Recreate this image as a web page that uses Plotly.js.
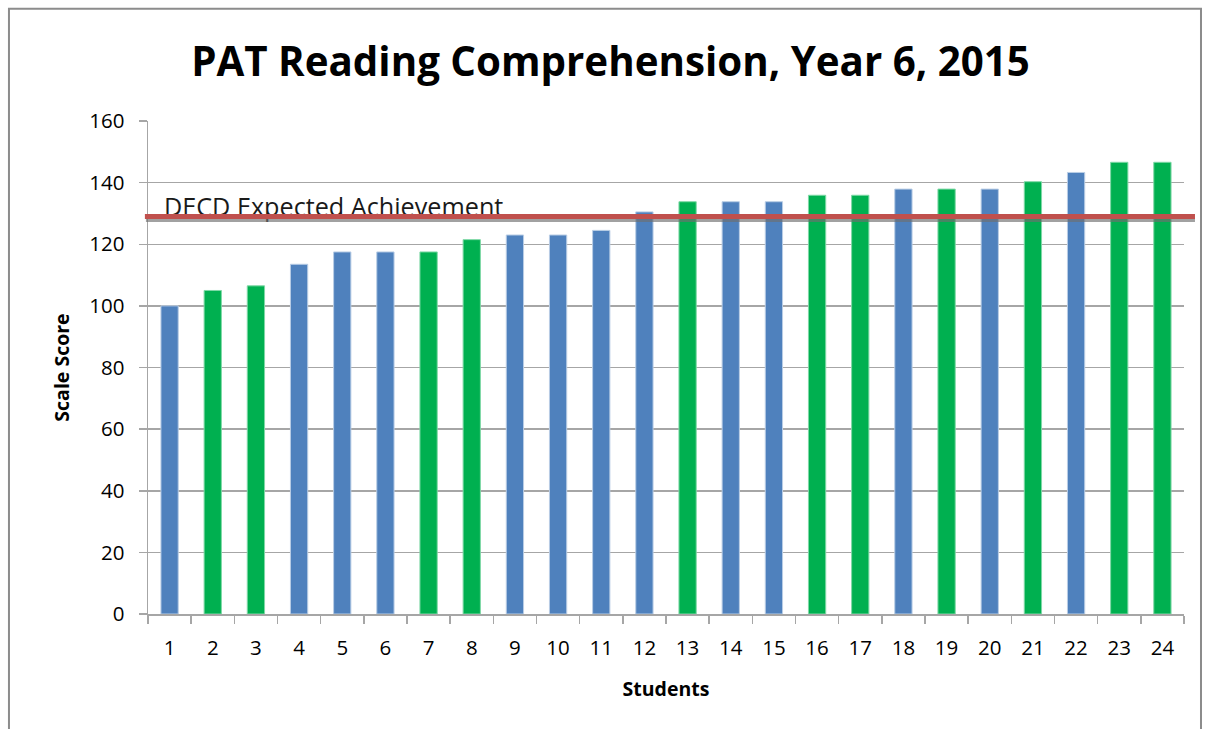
<!DOCTYPE html>
<html>
<head>
<meta charset="utf-8">
<script src="https://cdn.plot.ly/plotly-3.0.1.min.js"></script>
<style>html,body{margin:0;padding:0;background:#fff;}#chart{width:1209px;height:729px;}</style>
</head>
<body>
<div id="chart"></div>
<script>
const students = [1,2,3,4,5,6,7,8,9,10,11,12,13,14,15,16,17,18,19,20,21,22,23,24];
const scores = [100,105,106.5,113.5,117.5,117.5,117.5,121.5,123,123,124.5,130.5,133.8,133.8,133.8,135.9,135.9,137.9,137.9,137.9,140.3,143.3,146.6,146.6];
const groups = ['A','B','B','A','A','A','B','B','A','A','A','A','B','A','A','B','B','A','B','A','B','A','B','B'];
const expected = 129;
const expectedLabel = 'DECD Expected Achievement';
const yTicks = [0,20,40,60,80,100,120,140,160];

const groupColor = {A:'#4F81BD', B:'#00B050'};
const groupLine = {A:'#B9CDE5', B:'#7FD8A6'};
const FONT = 'Open Sans, Liberation Sans, sans-serif';

const data = [
  {
    type:'bar', x: students, y: scores, width: 0.4,
    marker:{color: groups.map(g=>groupColor[g]), line:{color: groups.map(g=>groupLine[g]), width:1}},
    hoverinfo:'x+y', showlegend:false
  },
  {
    type:'scatter', mode:'text', x:[0.87], y:[expected - 1.8], text:[expectedLabel],
    textposition:'top right', textfont:{family:FONT, size:25.2, color:'#1a1a1a'},
    hoverinfo:'skip', showlegend:false
  }
];

const layout = {
  width:1209, height:729,
  margin:{l:148, r:25, t:121, b:115},
  paper_bgcolor:'#fff', plot_bgcolor:'#fff',
  title:{text:'PAT Reading Comprehension, Year 6, 2015', x:0.505, xanchor:'center', y:0.915, yanchor:'middle',
         font:{family:FONT, size:40.3, color:'#000', weight:700}},
  xaxis:{
    range:[0.5,24.5], tickvals: students, ticktext: students.map(String),
    ticks:'', showgrid:false, zeroline:false, ticklabelstandoff:14,
    showline:true, linecolor:'#A6A6A6', linewidth:2,
    tickfont:{family:FONT, size:20.5, color:'#000'},
    minor:{tick0:0.5, dtick:1, ticks:'outside', ticklen:8, tickcolor:'#A6A6A6', tickwidth:1.5, showgrid:false},
    title:{text:'Students', font:{family:FONT, size:19.5, color:'#000', weight:700}, standoff:23}
  },
  yaxis:{
    range:[0,160], tickvals: yTicks, ticks:'outside', ticklen:8, tickcolor:'#A6A6A6', tickwidth:1.5,
    showgrid:true, gridcolor:'#A6A6A6', gridwidth:1.5, zeroline:false, ticklabelstandoff:10,
    showline:true, linecolor:'#A6A6A6', linewidth:1.5,
    tickfont:{family:FONT, size:20.5, color:'#000'},
    title:{text:'Scale Score', font:{family:FONT, size:19.5, color:'#000', weight:700}, standoff:14}
  },
  shapes:[
    {type:'rect', xref:'paper', yref:'paper', x0:-0.1342, x1:1.0164, y0:-0.35, y1:1.2275,
     line:{color:'#8C8C8C', width:2}, fillcolor:'rgba(0,0,0,0)', layer:'below'},
    {type:'line', xref:'paper', yref:'y', x0:-0.002, x1:1.0106, y0:expected-1.1, y1:expected-1.1,
     line:{color:'rgba(110,110,110,0.65)', width:4}, layer:'above'},
    {type:'line', xref:'paper', yref:'y', x0:-0.003, x1:1.0106, y0:expected, y1:expected,
     line:{color:'#C0504D', width:5}, layer:'above'}
  ]
};

Plotly.newPlot('chart', data, layout, {displayModeBar:false, staticPlot:true});
</script>
</body>
</html>
